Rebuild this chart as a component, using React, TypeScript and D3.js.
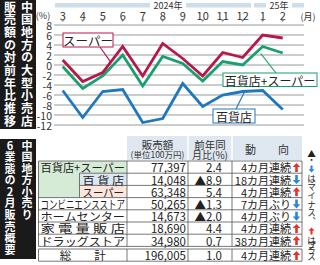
import React from 'react';
import * as d3 from 'd3';

const months = ['3', '4', '5', '6', '7', '8', '9', '10', '11', '12', '1', '2'];
const superVals = [1.0, -3.3, -1.5, 3.7, -2.2, 4.3, 1.3, -2.2, 2.5, 1.5, 6.0, 5.4];
const comboVals = [-0.3, -4.7, -2.2, 2.0, -4.2, 1.7, 0.3, -3.2, 0.7, 0.0, 3.7, 2.4];
const deptVals = [-5.1, -10.5, -5.3, -4.9, -11.5, -10.7, -3.7, -8.3, -6.0, -5.3, -5.1, -8.9];
const yTicks = [8, 6, 4, 2, 0, -2, -4, -6, -8, -10, -12];

const categories = ['百貨店+スーパー', '百 貨 店', 'スーパー', 'コンビニエンスストア', 'ホームセンター', '家 電 量 販 店', 'ドラッグストア', '総　　計'];
const sales = ['77,397', '14,048', '63,348', '50,265', '14,673', '18,690', '34,980', '196,005'];
const yoy = ['2.4', '▲8.9', '5.4', '▲1.3', '▲2.0', '4.4', '0.7', '1.0'];
const trend = ['4カ月連続', '18カ月連続', '4カ月連続', '7カ月ぶり', '4カ月ぶり', '4カ月連続', '38カ月連続', '4カ月連続'];
const trendUp = [true, false, true, false, false, true, true, true];

const title1 = ['中国地方の大型小売店', '販売額の対前年比推移'];
const title2 = ['中国地方小売り', '6業態の2月販売概要'];
// side note pieces; the arrows between them are drawn as icons
const notePieces = ['▲・', 'はマイナス、', 'はプラス'];

const RED = '#b8174c';
const GREEN = '#17a06c';
const BLUE = '#1f78be';
const UP = '#e5342b';
const DOWN = '#2a86d6';
const JP = '"Noto Sans CJK JP", "Noto Sans", sans-serif';

const x = d3.scalePoint<string>().domain(months).range([62.7, 282.7]);
const y = d3.scaleLinear().domain([-12, 8]).range([125, 25]);
const line = d3.line<number>().x((_, i) => x(months[i]) as number).y(d => y(d));

// point on a series between month i and i+1
const between = (vals: number[], i: number, t: number) => {
  const x0 = x(months[i]) as number, x1 = x(months[i + 1]) as number;
  return [x0 + (x1 - x0) * t, y(vals[i]) + (y(vals[i + 1]) - y(vals[i])) * t];
};

const Arrow = ({ cx, cy, up, s = 1 }: { cx: number; cy: number; up: boolean; s?: number }) => {
  const k = up ? -1 : 1;
  const d = `M${cx},${cy + k * 4.5 * s} L${cx - 3.8 * s},${cy + k * 0.3 * s} L${cx - 1.3 * s},${cy + k * 0.3 * s} L${cx - 1.3 * s},${cy - k * 4.5 * s} L${cx + 1.3 * s},${cy - k * 4.5 * s} L${cx + 1.3 * s},${cy + k * 0.3 * s} L${cx + 3.8 * s},${cy + k * 0.3 * s} Z`;
  return <path d={d} fill={up ? UP : DOWN} />;
};

const VText = ({ x, y, len, size, fill, weight, children }: any) => (
  <text x={x} y={y} fontSize={size} fill={fill} fontWeight={weight}
    style={{ writingMode: 'vertical-rl', textOrientation: 'upright' } as any}
    textLength={len} lengthAdjust="spacing" fontFamily={JP}>{children}</text>
);

const VTitle = ({ cols, top, step, size, height }: { cols: string[]; top: number; step: number; size: number; height: number }) => (
  <g>
    <rect x={0} y={top} width={36} height={height} fill="#1a1a1a" />
    {cols.map((col, ci) => (
      <VText key={ci} x={ci === 0 ? 27 : 10} y={top + 1} len={col.length * step - 1} size={size} fill="#fff" weight="bold">{col}</VText>
    ))}
  </g>
);

const App = () => {
  const c0 = 38.5, cSub = 79.5, c1 = 127, c2 = 188, c3 = 232, c4 = 302;
  const rowTop = (i: number) => (i < 7 ? 161 + i * 12.2 : 249);
  const rowH = 12.2;
  const tableBottom = rowTop(7) + rowH;

  const sp = between(superVals, 2, 0.4);
  const gp = [x(months[10]) as number - 2, y(comboVals[10]) + 7];
  const bp = between(deptVals, 9, 0.1);

  return (
    <svg width={320} height={265} style={{ position: 'absolute', left: 0, top: 0, background: '#fff' }} fontFamily={JP}>
      <VTitle cols={title1} top={0} step={12.7} size={12} height={129} />
      <VTitle cols={title2} top={139} step={11.6} size={11} height={120} />

      {/* year bands */}
      <rect x={55} y={3} width={196} height={4.5} fill="#cfdde9" />
      <rect x={150} y={0} width={36} height={10} fill="#fff" />
      <text x={168} y={5.5} fontSize={9} textAnchor="middle" dominantBaseline="central" fill="#333">2024年</text>
      <rect x={254} y={3} width={50} height={4.5} fill="#cfdde9" />
      <rect x={266} y={0} width={26} height={10} fill="#fff" />
      <text x={279} y={5.5} fontSize={9} textAnchor="middle" dominantBaseline="central" fill="#333">25年</text>

      {/* month labels */}
      {months.map(m => (
        <g key={m}>
          <text x={x(m)} y={15} fontSize={11} textAnchor="middle" dominantBaseline="central" fill="#333">{m}</text>
          <path d={`M${(x(m) as number) - 2},19.5 L${(x(m) as number) + 2},19.5 L${x(m)},22 Z`} fill="#888" />
        </g>
      ))}
      <text x={43} y={15} fontSize={9} textAnchor="middle" dominantBaseline="central" fill="#333">(%)</text>
      <text x={308} y={16} fontSize={9} textAnchor="middle" dominantBaseline="central" fill="#333">(月)</text>

      {/* grid */}
      {yTicks.map(t => (
        <g key={t}>
          <line x1={54} x2={304} y1={y(t)} y2={y(t)} stroke="#9a9a9a" strokeWidth={1} />
          <text x={52} y={y(t)} fontSize={10.5} textAnchor="end" dominantBaseline="central" fill="#333">{t}</text>
        </g>
      ))}

      <path d={line(deptVals) as string} fill="none" stroke={BLUE} strokeWidth={2.8} />
      <path d={line(comboVals) as string} fill="none" stroke={GREEN} strokeWidth={2.8} />
      <path d={line(superVals) as string} fill="none" stroke={RED} strokeWidth={2.8} />

      {/* labels */}
      <line x1={100} y1={47} x2={sp[0]} y2={sp[1]} stroke={RED} strokeWidth={1.2} />
      <rect x={63} y={33} width={50} height={14} fill="#fff" stroke={RED} strokeWidth={1} />
      <text x={88} y={40.5} fontSize={12.5} textAnchor="middle" dominantBaseline="central" fill="#222">スーパー</text>

      <line x1={gp[0]} y1={gp[1]} x2={276} y2={73} stroke={GREEN} strokeWidth={1.2} />
      <rect x={223} y={73} width={94} height={13.5} fill="#fff" stroke={GREEN} strokeWidth={1} />
      <text x={270} y={80} fontSize={12} textAnchor="middle" dominantBaseline="central" fill="#222">百貨店+スーパー</text>

      <line x1={bp[0]} y1={bp[1]} x2={236} y2={109} stroke={BLUE} strokeWidth={1.2} />
      <rect x={213} y={109} width={42} height={14} fill="#fff" stroke={BLUE} strokeWidth={1} />
      <text x={234} y={116.5} fontSize={12} textAnchor="middle" dominantBaseline="central" fill="#222">百貨店</text>

      {/* table header */}
      <rect x={c1} y={136} width={c4 - c1} height={24} fill="#dfe8f0" />
      <line x1={c2} x2={c2} y1={136} y2={160} stroke="#fff" strokeWidth={1.5} />
      <line x1={c3} x2={c3} y1={136} y2={160} stroke="#fff" strokeWidth={1.5} />
      <text x={(c1 + c2) / 2} y={144} fontSize={10.5} textAnchor="middle" dominantBaseline="central" fill="#333">販売額</text>
      <text x={(c1 + c2) / 2} y={154} fontSize={8.5} textAnchor="middle" dominantBaseline="central" fill="#333">(単位100万円)</text>
      <text x={(c2 + c3) / 2} y={144} fontSize={10.5} textAnchor="middle" dominantBaseline="central" fill="#333">前年同</text>
      <text x={(c2 + c3) / 2} y={154} fontSize={10} textAnchor="middle" dominantBaseline="central" fill="#333">月比(%)</text>
      <text x={(c3 + c4) / 2} y={149} fontSize={11} textAnchor="middle" dominantBaseline="central" fill="#333">動　　向</text>

      {/* left column backgrounds */}
      <rect x={c0} y={rowTop(0)} width={c1 - c0} height={rowH * 3} fill="#d6ebd6" />
      <rect x={cSub} y={rowTop(1)} width={c1 - cSub} height={rowH} fill="#dae7f3" />
      <rect x={cSub} y={rowTop(2)} width={c1 - cSub} height={rowH} fill="#fbe5dc" />

      {/* rows */}
      {categories.map((c, i) => {
        const top = rowTop(i);
        const cy = top + rowH / 2 + 0.3;
        const sub = i === 1 || i === 2;
        const lx = sub ? cSub + 3 : c0 + 2;
        const lw = sub ? c1 - cSub - 6 : c1 - c0 - 4;
        return (
          <g key={c}>
            {i === 7 ? (
              <text x={(c0 + c1) / 2} y={cy} fontSize={11.5} textAnchor="middle" dominantBaseline="central" fill="#222">{c}</text>
            ) : (
              <text x={lx} y={cy} fontSize={11.5} dominantBaseline="central" fill="#222"
                textLength={lw} lengthAdjust="spacingAndGlyphs">{c}</text>
            )}
            <text x={c2 - 2} y={cy} fontSize={11.5} textAnchor="end" dominantBaseline="central" fill="#222">{sales[i]}</text>
            <text x={c3 - 10} y={cy} fontSize={11.5} textAnchor="end" dominantBaseline="central" fill="#222">{yoy[i]}</text>
            <text x={c4 - 11} y={cy} fontSize={11} textAnchor="end" dominantBaseline="central" fill="#222">{trend[i]}</text>
            <Arrow cx={c4 - 5.5} cy={cy} up={trendUp[i]} />
          </g>
        );
      })}

      {/* table lines */}
      {d3.range(8).map(i => {
        const top = rowTop(i);
        const startX = i === 1 || i === 2 ? cSub : c0;
        return <line key={`h${i}`} x1={startX} x2={c4} y1={top} y2={top} stroke="#555" strokeWidth={0.8} />;
      })}
      <line x1={c0} x2={c4} y1={rowTop(6) + rowH} y2={rowTop(6) + rowH} stroke="#555" strokeWidth={0.8} />
      <line x1={c0} x2={c4} y1={tableBottom} y2={tableBottom} stroke="#555" strokeWidth={0.8} />
      {[c0, c1, c2, c3, c4].map((cx, k) => (
        <g key={`v${k}`}>
          <line x1={cx} x2={cx} y1={rowTop(0)} y2={rowTop(6) + rowH} stroke="#555" strokeWidth={0.8} />
          <line x1={cx} x2={cx} y1={rowTop(7)} y2={tableBottom} stroke="#555" strokeWidth={0.8} />
        </g>
      ))}
      <line x1={cSub} x2={cSub} y1={rowTop(1)} y2={rowTop(3)} stroke="#555" strokeWidth={0.8} />

      {/* side note */}
      <VText x={311.5} y={149} len={15} size={8.6} fill="#222">{notePieces[0]}</VText>
      <Arrow cx={311.5} cy={169} up={false} s={0.8} />
      <VText x={311.5} y={174} len={52} size={8.6} fill="#222">{notePieces[1]}</VText>
      <Arrow cx={311.5} cy={231} up={true} s={0.8} />
      <VText x={311.5} y={236} len={25} size={8.6} fill="#222">{notePieces[2]}</VText>
    </svg>
  );
};

export default App;
